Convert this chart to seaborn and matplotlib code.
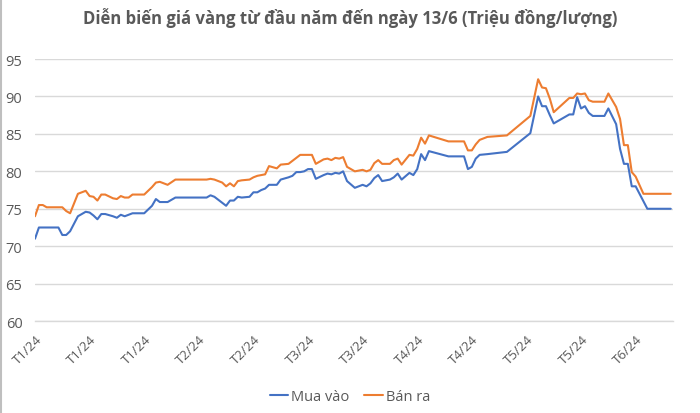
import matplotlib
matplotlib.use("Agg")
import matplotlib.pyplot as plt
import seaborn as sns
import pandas as pd
from matplotlib.lines import Line2D

dates = [
    "2024-01-02", "2024-01-03", "2024-01-04", "2024-01-05", "2024-01-08", "2024-01-09", "2024-01-10", "2024-01-11",
    "2024-01-13", "2024-01-15", "2024-01-16", "2024-01-17", "2024-01-18", "2024-01-19", "2024-01-20", "2024-01-22",
    "2024-01-23", "2024-01-24", "2024-01-25", "2024-01-26", "2024-01-27", "2024-01-30", "2024-02-01", "2024-02-02",
    "2024-02-03", "2024-02-05", "2024-02-07", "2024-02-15", "2024-02-16", "2024-02-17", "2024-02-19", "2024-02-20",
    "2024-02-21", "2024-02-22", "2024-02-23", "2024-02-24", "2024-02-26", "2024-02-27", "2024-02-28", "2024-02-29",
    "2024-03-01", "2024-03-02", "2024-03-04", "2024-03-05", "2024-03-07", "2024-03-08", "2024-03-09", "2024-03-10",
    "2024-03-11", "2024-03-12", "2024-03-13", "2024-03-14", "2024-03-16", "2024-03-17", "2024-03-18", "2024-03-19",
    "2024-03-20", "2024-03-21", "2024-03-22", "2024-03-24", "2024-03-26", "2024-03-27", "2024-03-28", "2024-03-29",
    "2024-03-30", "2024-03-31", "2024-04-02", "2024-04-03", "2024-04-04", "2024-04-05", "2024-04-07", "2024-04-08",
    "2024-04-09", "2024-04-10", "2024-04-11", "2024-04-12", "2024-04-17", "2024-04-21", "2024-04-22", "2024-04-23",
    "2024-04-24", "2024-04-25", "2024-04-27", "2024-05-02", "2024-05-08", "2024-05-10", "2024-05-11", "2024-05-12",
    "2024-05-13", "2024-05-14", "2024-05-18", "2024-05-19", "2024-05-20", "2024-05-21", "2024-05-22", "2024-05-23",
    "2024-05-24", "2024-05-27", "2024-05-28", "2024-05-30", "2024-05-31", "2024-06-01", "2024-06-02", "2024-06-03",
    "2024-06-04", "2024-06-06", "2024-06-07", "2024-06-13",
]

mua_vao = [
    71.0, 72.5, 72.5, 72.5, 72.5, 71.5, 71.5, 72.0,
    74.0, 74.6, 74.5, 74.1, 73.6, 74.3, 74.3, 74.0,
    73.8, 74.2, 74.0, 74.2, 74.4, 74.4, 75.4, 76.3,
    75.9, 75.9, 76.5, 76.5, 76.8, 76.6, 75.8, 75.4,
    76.1, 76.1, 76.6, 76.5, 76.6, 77.2, 77.2, 77.5,
    77.7, 78.2, 78.2, 78.9, 79.2, 79.4, 79.9, 79.9,
    80.0, 80.3, 80.3, 79.0, 79.5, 79.7, 79.6, 79.8,
    79.7, 80.0, 78.7, 77.8, 78.2, 78.0, 78.4, 79.1,
    79.5, 78.7, 78.9, 79.2, 79.7, 78.9, 79.8, 79.5,
    80.3, 82.3, 81.5, 82.7, 82.0, 82.0, 80.3, 80.6,
    81.7, 82.2, 82.3, 82.6, 85.1, 90.0, 88.7, 88.7,
    87.5, 86.4, 87.6, 87.6, 89.9, 88.4, 88.7, 87.8,
    87.4, 87.4, 88.4, 86.3, 83.0, 81.0, 81.0, 78.0,
    78.0, 76.0, 75.0, 75.0,
]

ban_ra = [
    74.0, 75.5, 75.5, 75.2, 75.2, 75.2, 74.7, 74.4,
    77.0, 77.4, 76.7, 76.6, 76.1, 76.9, 76.9, 76.4,
    76.3, 76.7, 76.5, 76.5, 76.9, 76.9, 77.9, 78.5,
    78.6, 78.2, 78.9, 78.9, 79.0, 78.9, 78.5, 78.0,
    78.4, 78.0, 78.7, 78.8, 78.9, 79.2, 79.4, 79.5,
    79.6, 80.7, 80.4, 80.9, 81.0, 81.4, 81.8, 82.2,
    82.2, 82.2, 82.2, 81.0, 81.6, 81.7, 81.5, 81.8,
    81.7, 81.9, 80.6, 80.0, 80.2, 80.0, 80.2, 81.1,
    81.5, 81.0, 81.0, 81.5, 81.7, 80.9, 82.2, 82.1,
    83.0, 84.5, 83.7, 84.8, 84.0, 84.0, 82.8, 82.8,
    83.6, 84.2, 84.6, 84.8, 87.4, 92.3, 91.2, 91.1,
    89.7, 87.9, 89.8, 89.8, 90.4, 90.3, 90.4, 89.5,
    89.3, 89.3, 90.4, 88.6, 87.0, 83.5, 83.5, 79.9,
    79.3, 77.0, 77.0, 77.0,
]

series_names = ["Mua vào", "Bán ra"]
series_colors = ["#4472C4", "#ED7D31"]
tick_dates = ["2024-01-02", "2024-01-16", "2024-01-30", "2024-02-13", "2024-02-27", "2024-03-12",
              "2024-03-26", "2024-04-09", "2024-04-23", "2024-05-07", "2024-05-21", "2024-06-04"]
tick_labels = ["T1/24", "T1/24", "T1/24", "T2/24", "T2/24", "T3/24",
               "T3/24", "T4/24", "T4/24", "T5/24", "T5/24", "T6/24"]
y_ticks = [60, 65, 70, 75, 80, 85, 90, 95]
title = "Diễn biến giá vàng từ đầu năm đến ngày 13/6 (Triệu đồng/lượng)"

sns.set_theme(style="white")
plt.rcParams["font.family"] = ["Open Sans", "DejaVu Sans"]

df = pd.concat([
    pd.DataFrame({"date": pd.to_datetime(dates), "value": mua_vao, "series": series_names[0]}),
    pd.DataFrame({"date": pd.to_datetime(dates), "value": ban_ra, "series": series_names[1]}),
], ignore_index=True)

fig = plt.figure(figsize=(7.0, 4.14), dpi=100)
ax = fig.add_axes([0.05, 0.222, 0.911, 0.633])

sns.lineplot(data=df, x="date", y="value", hue="series", hue_order=series_names,
             palette=series_colors, linewidth=1.5, ax=ax, legend=False)

grey = "#595959"
gridc = "#D9D9D9"
ax.set_ylim(60, 95)
ax.set_yticks(y_ticks)
ax.set_yticklabels([str(v) for v in y_ticks], fontsize=10.5, color=grey)
ax.yaxis.grid(True, color=gridc, linewidth=1)
ax.xaxis.grid(False)
ax.set_xlim(pd.Timestamp("2024-01-02"), pd.Timestamp("2024-06-13 12:00"))
ax.set_xticks(pd.to_datetime(tick_dates))
ax.set_xticklabels(tick_labels, rotation=45, ha="right", rotation_mode="anchor",
                   fontsize=9.5, color=grey)
ax.tick_params(axis="x", direction="out", length=4, width=1, color=gridc, pad=4)
ax.tick_params(axis="y", length=0, pad=9)
for side in ["top", "right", "left"]:
    ax.spines[side].set_visible(False)
ax.spines["bottom"].set_color(gridc)
ax.spines["bottom"].set_linewidth(1)
ax.set_xlabel("")
ax.set_ylabel("")

fig.text(0.5, 0.957, title, ha="center", va="center", fontsize=12,
         fontweight="bold", color=grey)

handles = [Line2D([0], [0], color=c, linewidth=1.5) for c in series_colors]
fig.legend(handles, series_names, loc="center", bbox_to_anchor=(0.5, 0.04), ncol=2,
           frameon=False, fontsize=10.5, handlelength=1.3, handletextpad=0.2,
           columnspacing=1.0, labelcolor=grey)

fig.add_artist(Line2D([0.0015, 0.0015], [0, 1], color="#BFBFBF", linewidth=1.5,
                      transform=fig.transFigure))

fig.savefig("out.png", dpi=100)
